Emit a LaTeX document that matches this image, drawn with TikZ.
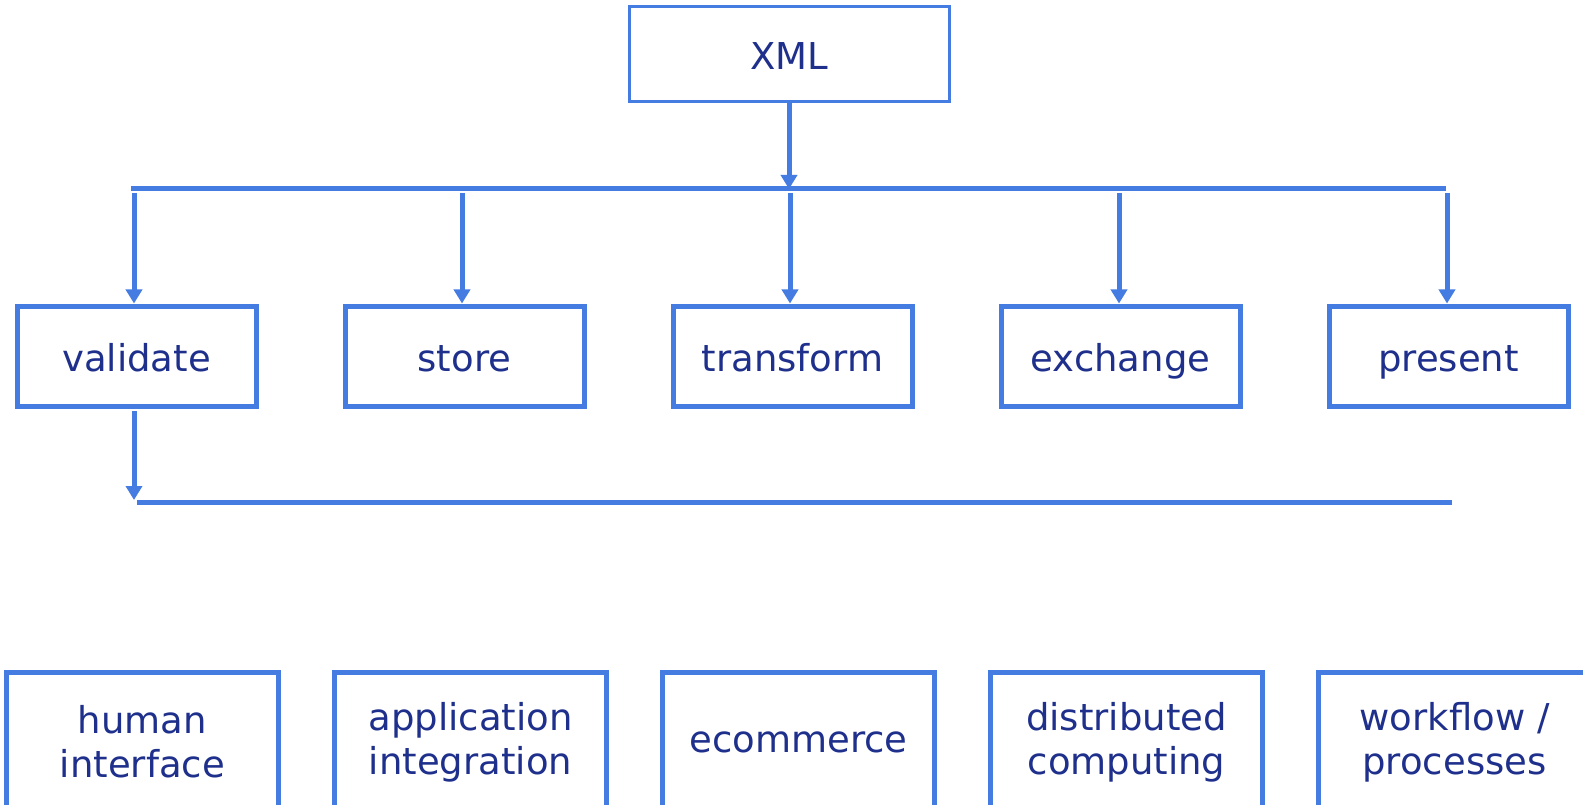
\documentclass[tikz,border=0pt]{standalone}
\usepackage{fontspec}
\setmainfont{DejaVu Sans}
\usetikzlibrary{arrows.meta}
\definecolor{lineblue}{RGB}{68,124,226}
\definecolor{textnavy}{RGB}{30,48,140}
\begin{document}
\begin{tikzpicture}[x=1pt,y=-1pt,
  every node/.style={text=textnavy,font=\fontsize{37}{44}\selectfont,inner sep=0pt,align=center},
  topbox/.style={draw=lineblue,line width=3pt,minimum width=320pt,minimum height=95pt,text height=35pt,text depth=4pt},
  midbox/.style={draw=lineblue,line width=5pt,minimum width=239pt,minimum height=100pt,text height=35pt,text depth=4pt},
  botbox/.style={draw=lineblue,line width=5pt,minimum width=272pt,minimum height=140pt},
  conn/.style={draw=lineblue,line width=5pt},
  arr/.style={conn,-{Triangle[width=16pt,length=14pt]}}]
\clip (0,0) rectangle (1583,805);
\fill[white] (0,0) rectangle (1583,805);

\node[topbox] (xml) at (789,54.5) {XML};

\node[midbox] (v) at (136.5,356) {validate};
\node[midbox] (s) at (464.5,356) {store};
\node[midbox] (t) at (792.5,356) {transform};
\node[midbox] (e) at (1120.5,356) {exchange};
\node[midbox] (p) at (1448.5,356) {present};

\node[botbox] (b1) at (142.5,742) {human\\interface};
\node[botbox] (b2) at (470.5,742) {application\\integration};
\node[botbox] (b3) at (798.5,742) {ecommerce};
\node[botbox] (b4) at (1126.5,742) {distributed\\computing};
\node[botbox] (b5) at (1454.5,742) {workflow /\\processes};

% top bus
\coordinate (hl) at (131,189);
\coordinate (hr) at (1446,189);
\draw[conn] (hl) -- (hr);
\draw[arr] (xml.south) -- (xml.south |- hl);

\coordinate (t1) at (134,193);
\coordinate (t2) at (462,193);
\coordinate (t3) at (790,193);
\coordinate (t4) at (1119,193);
\coordinate (t5) at (1447,193);
\draw[arr] (t1) -- (t1 |- v.north);
\draw[arr] (t2) -- (t2 |- s.north);
\draw[arr] (t3) -- (t3 |- t.north);
\draw[arr] (t4) -- (t4 |- e.north);
\draw[arr] (t5) -- (t5 |- p.north);

% lower bus
\coordinate (vs) at (134,411);
\coordinate (vt) at (134,500);
\coordinate (ll) at (137,502);
\coordinate (lr) at (1452,502);
\draw[arr] (vs) -- (vt);
\draw[conn] (ll) -- (lr);
\end{tikzpicture}
\end{document}
